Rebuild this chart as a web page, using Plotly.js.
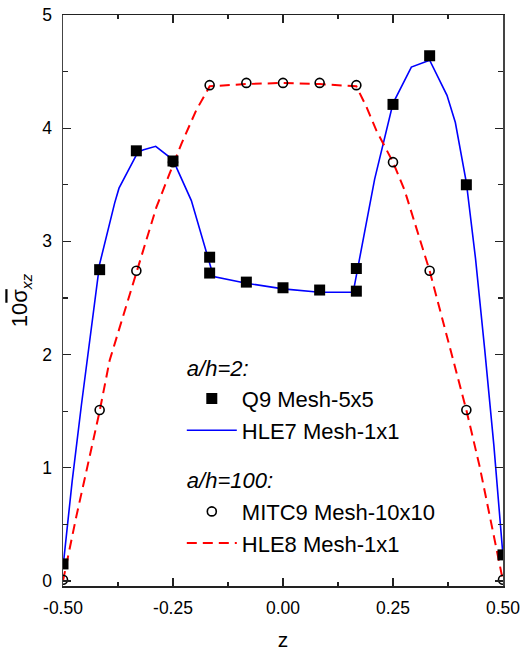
<!DOCTYPE html>
<html>
<head>
<meta charset="utf-8">
<script src="https://cdn.plot.ly/plotly-3.0.1.min.js"></script>
<style>html,body{margin:0;padding:0;background:#fff;}</style>
</head>
<body>
<div id="chart" style="width:531px;height:651px;"></div>
<script>
// Q9 Mesh-5x5 (a/h=2)
var q9Z = [-0.5, -0.4167, -0.3333, -0.25, -0.1667, -0.1667, -0.0833, 0.0, 0.0833, 0.1667, 0.1667, 0.25, 0.3333, 0.4167, 0.5];
var q9S = [0.15, 2.75, 3.80, 3.71, 2.86, 2.72, 2.64, 2.59, 2.57, 2.76, 2.56, 4.21, 4.64, 3.50, 0.23];

// HLE7 Mesh-1x1 (a/h=2)
var hle7Z = [-0.5, -0.4792, -0.4583, -0.4375, -0.4167, -0.3825, -0.3727, -0.3295, -0.3166, -0.2893, -0.25, -0.2083, -0.158, -0.0833, 0.0, 0.0833, 0.1595, 0.2083, 0.25, 0.2917, 0.3333, 0.3727, 0.3917, 0.4167, 0.4375, 0.4583, 0.4792, 0.5];
var hle7S = [0.12, 0.88, 1.55, 2.20, 2.80, 3.34, 3.47, 3.79, 3.81, 3.84, 3.72, 3.36, 2.69, 2.63, 2.58, 2.55, 2.55, 3.55, 4.22, 4.54, 4.60, 4.29, 4.05, 3.52, 2.85, 2.05, 1.20, 0.22];

// MITC9 Mesh-10x10 (a/h=100)
var mitcZ = [-0.5, -0.4167, -0.3333, -0.25, -0.1667, -0.0833, 0.0, 0.0833, 0.1667, 0.25, 0.3333, 0.4167, 0.5];
var mitcS = [0.01, 1.51, 2.74, 3.70, 4.38, 4.40, 4.40, 4.40, 4.38, 3.70, 2.74, 1.51, 0.01];

// HLE8 Mesh-1x1 (a/h=100)
var hle8Z = [-0.5, -0.4697, -0.4394, -0.4167, -0.3939, -0.3333, -0.2879, -0.2576, -0.2311, -0.197, -0.1667, -0.0833, 0.0, 0.0833, 0.1667, 0.1894, 0.2121, 0.25, 0.2765, 0.3333, 0.3712, 0.4167, 0.447, 0.4773, 0.5];
var hle8S = [0.0, 0.57, 1.10, 1.50, 1.95, 2.73, 3.30, 3.60, 3.86, 4.16, 4.37, 4.39, 4.40, 4.39, 4.37, 4.19, 3.98, 3.70, 3.45, 2.74, 2.19, 1.51, 1.01, 0.42, 0.0];

var xTickVals = [-0.5, -0.25, 0.0, 0.25, 0.5];
var xTickText = ['-0.50', '-0.25', '0.00', '0.25', '0.50'];
var yTickVals = [0, 1, 2, 3, 4, 5];
var yTickText = ['0', '1', '2', '3', '4', '5'];

var FONT = 'Liberation Sans, Arial, sans-serif';

var traces = [
  {x: hle7Z, y: hle7S, mode: 'lines', name: 'HLE7 Mesh-1x1', legendgroup: 'a2', legendrank: 2,
   legendgrouptitle: {text: '<i>a/h=2:</i>', font: {size: 22, family: FONT, color: '#000'}},
   line: {color: '#0000ff', width: 1.6}},
  {x: hle8Z, y: hle8S, mode: 'lines', name: 'HLE8 Mesh-1x1', legendgroup: 'a100', legendrank: 4,
   legendgrouptitle: {text: '<i>a/h=100:</i>', font: {size: 22, family: FONT, color: '#000'}},
   line: {color: '#ff0000', width: 2, dash: '10px,6px'}},
  {x: q9Z, y: q9S, mode: 'markers', name: 'Q9 Mesh-5x5', legendgroup: 'a2', legendrank: 1,
   marker: {symbol: 'square', size: 11, color: '#000'}},
  {x: mitcZ, y: mitcS, mode: 'markers', name: 'MITC9 Mesh-10x10', legendgroup: 'a100', legendrank: 3,
   marker: {symbol: 'circle-open', size: 9, color: '#000', line: {width: 1.6, color: '#000'}}}
];

var layout = {
  width: 531, height: 651,
  margin: {l: 63, r: 28, t: 15, b: 65},
  paper_bgcolor: '#fff', plot_bgcolor: '#fff',
  font: {family: FONT, color: '#000', size: 17.5},
  showlegend: true,
  legend: {
    x: 0.27, y: 0.42, xanchor: 'left', yanchor: 'top',
    bgcolor: 'rgba(0,0,0,0)', borderwidth: 0,
    font: {size: 22, family: FONT, color: '#000'},
    traceorder: 'grouped', tracegroupgap: 18, itemwidth: 50
  },
  xaxis: {
    range: [-0.5, 0.5], tickvals: xTickVals, ticktext: xTickText,
    ticks: 'inside', ticklen: 8, tickwidth: 1.2, tickcolor: '#222',
    minor: {ticks: 'inside', ticklen: 4, tickwidth: 1.2, tickcolor: '#222', dtick: 0.125, showgrid: false},
    showline: true, linecolor: '#222', linewidth: 1.5, mirror: 'allticks',
    showgrid: false, zeroline: false, ticklabelstandoff: 5,
    tickfont: {size: 17.5, family: FONT, color: '#000'},
    title: {text: 'z', font: {size: 21, family: FONT, color: '#000'}, standoff: 16}
  },
  yaxis: {
    range: [-0.045, 5], tickvals: yTickVals, ticktext: yTickText,
    ticks: 'inside', ticklen: 8, tickwidth: 1.2, tickcolor: '#222',
    minor: {ticks: 'inside', ticklen: 5, tickwidth: 1.2, tickcolor: '#222', dtick: 0.5, showgrid: false},
    showline: true, linecolor: '#444', linewidth: 1.5, mirror: 'allticks',
    showgrid: false, zeroline: false, ticklabelstandoff: 6,
    tickfont: {size: 17.5, family: FONT, color: '#000'},
    title: {text: '10<span style="text-decoration:overline">\u03c3</span><sub><i>xz</i></sub>', font: {size: 22, family: FONT, color: '#000'}, standoff: 8}
  }
};

Plotly.newPlot('chart', traces, layout, {displayModeBar: false, staticPlot: true});
</script>
</body>
</html>
